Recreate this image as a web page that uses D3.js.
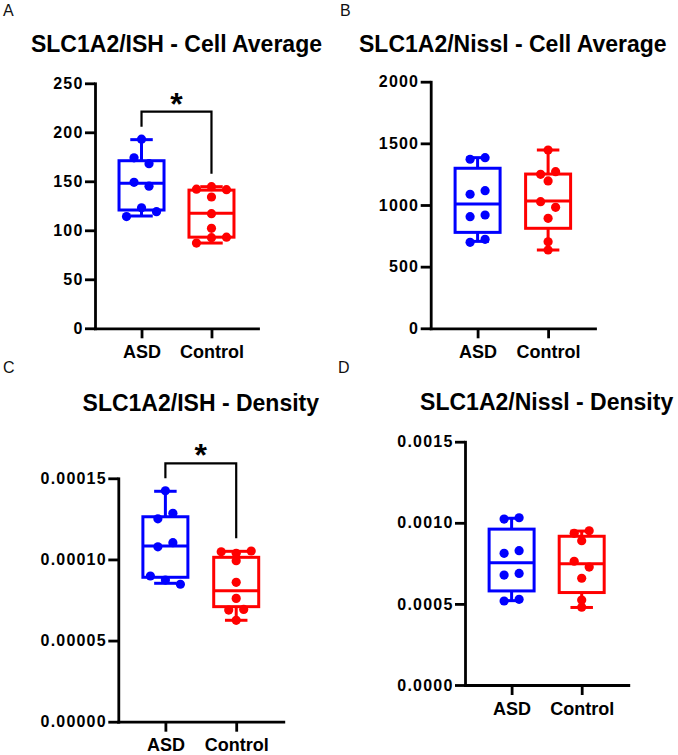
<!DOCTYPE html>
<html><head><meta charset="utf-8">
<script src="https://cdn.jsdelivr.net/npm/d3@7"></script>
<style>body{margin:0;background:#fff}</style>
</head><body><svg id="c" width="678" height="755"></svg>
<script>
// ---------- data ----------
const groups = ["ASD", "Control"];
const colors = ["#0000ff", "#ff0000"];

// Panel A
const titleA = "SLC1A2/ISH - Cell Average";
const ticksA = [0, 50, 100, 150, 200, 250];
const asdA  = [193, 174, 168, 149, 145, 123, 114, 119];
const ctrlA = [144.5, 142, 141.5, 134, 117, 102, 92.5, 87, 93];
const boxAsdA  = [114.6, 120.7, 148, 171, 192.5];   // min, q1, median, q3, max
const boxCtrlA = [87, 93, 117.3, 141, 144.5];
const sigA = "*";

// Panel B
const titleB = "SLC1A2/Nissl - Cell Average";
const ticksB = [0, 500, 1000, 1500, 2000];
const asdB  = [1371, 1384, 1087, 1116, 905, 919, 697, 722];
const ctrlB = [1446, 1249, 1270, 1195, 1027, 981, 892, 702, 635];
const boxAsdB  = [705, 778, 1008, 1298, 1384];
const boxCtrlB = [635, 811, 1032, 1251, 1446];

// Panel C
const titleC = "SLC1A2/ISH - Density";
const ticksC = [0, 0.00005, 0.0001, 0.00015];
const asdC  = [0.0001423, 0.0001250, 0.0001284, 0.0001078, 0.0001103, 0.0000873, 0.0000898, 0.0000847];
const ctrlC = [0.0001038, 0.0001047, 0.0001052, 0.0000992, 0.0000859, 0.0000760, 0.0000688, 0.0000692, 0.0000625];
const boxAsdC  = [0.0000853, 0.0000890, 0.0001083, 0.0001263, 0.0001420];
const boxCtrlC = [0.0000625, 0.0000709, 0.0000807, 0.0001013, 0.0001050];
const sigC = "*";

// Panel D
const titleD = "SLC1A2/Nissl - Density";
const ticksD = [0, 0.0005, 0.0010, 0.0015];
const asdD  = [0.001023, 0.001031, 0.000812, 0.000828, 0.000678, 0.000688, 0.000518, 0.000528];
const ctrlD = [0.000935, 0.000951, 0.000890, 0.000763, 0.000727, 0.000658, 0.000524, 0.000480];
const boxAsdD  = [0.000520, 0.000580, 0.000754, 0.000961, 0.001028];
const boxCtrlD = [0.000478, 0.000570, 0.000747, 0.000917, 0.000949];

// ---------- layout ----------
const panels = [
  {letter: "A", lx: 3, ly: 16, title: titleA, titleY: 52, left: 95, right: 258, top: 83.3, bottom: 328.3,
   ticks: ticksA, fmt: d3.format("d"), series: [asdA, ctrlA], boxes: [boxAsdA, boxCtrlA], sig: sigA},
  {letter: "B", lx: 340, ly: 16, title: titleB, titleY: 52, left: 430.7, right: 595, top: 81.7, bottom: 328.3,
   ticks: ticksB, fmt: d3.format("d"), series: [asdB, ctrlB], boxes: [boxAsdB, boxCtrlB], sig: null},
  {letter: "C", lx: 3, ly: 373, title: titleC, titleY: 410.7, left: 118.3, right: 283.3, top: 478.3, bottom: 721.7,
   ticks: ticksC, fmt: d3.format(".5f"), series: [asdC, ctrlC], boxes: [boxAsdC, boxCtrlC], sig: sigC},
  {letter: "D", lx: 338, ly: 373, title: titleD, titleY: 410, left: 465, right: 628.3, top: 441.7, bottom: 685,
   ticks: ticksD, fmt: d3.format(".4f"), series: [asdD, ctrlD], boxes: [boxAsdD, boxCtrlD], sig: null}
];

const FONT = "'Liberation Sans', Arial, Helvetica, sans-serif";
const svg = d3.select("#c");
svg.append("rect").attr("width", 678).attr("height", 755).attr("fill", "#fff");

const BOXW = 45, R = 4.6, SLOT = 15, NEAR = 6.2;

function swarm(vals, y, cx) {
  const idx = vals.map((v, i) => i).sort((a, b) => vals[b] - vals[a]);
  const grps = [];
  let cur = [idx[0]];
  for (let k = 1; k < idx.length; k++) {
    if (Math.abs(y(vals[idx[k]]) - y(vals[idx[k - 1]])) < NEAR) cur.push(idx[k]);
    else { grps.push(cur); cur = [idx[k]]; }
  }
  grps.push(cur);
  const out = [];
  grps.forEach(g => {
    g.sort((a, b) => a - b);
    const k = g.length;
    const slots = d3.range(k).map(i => (i - (k - 1) / 2) * SLOT)
      .sort((a, b) => Math.abs(a) - Math.abs(b) || a - b);
    g.forEach((i, j) => out.push({v: vals[i], x: cx + slots[j]}));
  });
  return out;
}

panels.forEach(p => {
  const g = svg.append("g");
  const y = d3.scaleLinear().domain([0, d3.max(p.ticks)]).range([p.bottom, p.top]);
  const x = d3.scalePoint().domain(groups).range([p.left, p.right]).padding(0.665);

  // panel letter
  g.append("text").attr("x", p.lx).attr("y", p.ly).text(p.letter)
    .attr("font-family", FONT).attr("font-size", 16).attr("fill", "#111");
  // title
  g.append("text").attr("x", (p.left + p.right) / 2).attr("y", p.titleY).text(p.title)
    .attr("text-anchor", "middle").attr("font-family", FONT).attr("font-weight", "bold")
    .attr("font-size", 23).attr("fill", "#000");

  // y axis
  const ya = g.append("g").attr("transform", `translate(${p.left},0)`)
    .call(d3.axisLeft(y).tickValues(p.ticks).tickFormat(p.fmt).tickSize(10).tickSizeOuter(0).tickPadding(1.5));
  ya.selectAll("text").attr("font-family", FONT).attr("font-weight", "bold").attr("font-size", 16)
    .attr("letter-spacing", "1.2px").attr("fill", "#000");
  // x axis
  const xa = g.append("g").attr("transform", `translate(0,${p.bottom})`)
    .call(d3.axisBottom(x).tickSize(10).tickSizeOuter(0).tickPadding(7));
  xa.selectAll("text").attr("font-family", FONT).attr("font-weight", "bold").attr("font-size", 18)
    .attr("fill", "#000");
  [ya, xa].forEach(a => {
    a.select(".domain").attr("stroke", "#000").attr("stroke-width", 2.8).attr("stroke-linecap", "square");
    a.selectAll(".tick line").attr("stroke", "#000").attr("stroke-width", 2.8);
  });

  // boxes
  groups.forEach((name, gi) => {
    const cx = x(name), col = colors[gi];
    const [mn, q1, md, q3, mx] = p.boxes[gi];
    const bg = g.append("g").attr("stroke", col).attr("stroke-width", 3).attr("fill", "none");
    bg.append("line").attr("x1", cx).attr("x2", cx).attr("y1", y(q3)).attr("y2", y(mx));
    bg.append("line").attr("x1", cx).attr("x2", cx).attr("y1", y(q1)).attr("y2", y(mn));
    bg.append("line").attr("x1", cx - BOXW / 4).attr("x2", cx + BOXW / 4).attr("y1", y(mx)).attr("y2", y(mx));
    bg.append("line").attr("x1", cx - BOXW / 4).attr("x2", cx + BOXW / 4).attr("y1", y(mn)).attr("y2", y(mn));
    bg.append("rect").attr("x", cx - BOXW / 2).attr("width", BOXW)
      .attr("y", y(q3)).attr("height", y(q1) - y(q3));
    bg.append("line").attr("x1", cx - BOXW / 2).attr("x2", cx + BOXW / 2).attr("y1", y(md)).attr("y2", y(md));

    g.append("g").selectAll("circle").data(swarm(p.series[gi], y, cx)).join("circle")
      .attr("cx", d => d.x).attr("cy", d => y(d.v)).attr("r", R).attr("fill", col);
  });

  // significance bracket
  if (p.sig) {
    const x1 = x(groups[0]), x2 = x(groups[1]);
    const m1 = y(p.boxes[0][4]), m2 = y(p.boxes[1][4]);
    const top = Math.min(m1, m2) - 28;
    g.append("path")
      .attr("d", `M${x1},${m1 - 13}V${top}H${x2}V${m2 - 13}`)
      .attr("fill", "none").attr("stroke", "#000").attr("stroke-width", 2.2);
    g.append("text").attr("x", (x1 + x2) / 2).attr("y", top + 3).text(p.sig)
      .attr("text-anchor", "middle").attr("font-family", FONT).attr("font-weight", "bold")
      .attr("font-size", 32).attr("fill", "#000");
  }
});
</script></body></html>
